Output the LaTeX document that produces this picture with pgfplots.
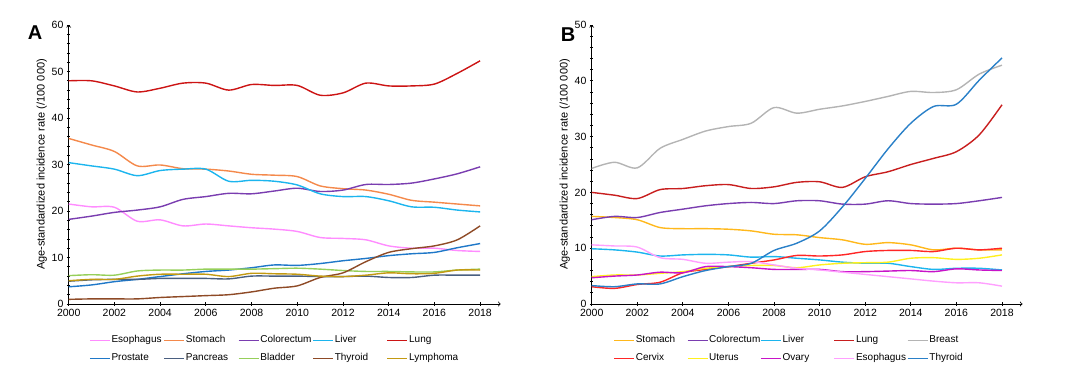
\documentclass[border=0pt]{standalone}
\usepackage{fontspec}
\setmainfont{Liberation Sans}
\usepackage{pgfplots}
\pgfplotsset{compat=1.18}
\definecolor{esoA}{HTML}{FF8CFF}
\definecolor{stoA}{HTML}{F4894B}
\definecolor{colA}{HTML}{7A3DB0}
\definecolor{livA}{HTML}{1CB5EE}
\definecolor{lungA}{HTML}{CC1414}
\definecolor{proA}{HTML}{1F78C8}
\definecolor{panA}{HTML}{4A5F80}
\definecolor{blaA}{HTML}{96CF5A}
\definecolor{thyA}{HTML}{8E4A26}
\definecolor{lymA}{HTML}{C39A12}
\definecolor{stoB}{HTML}{FFB81C}
\definecolor{lungB}{HTML}{C81E1E}
\definecolor{breB}{HTML}{B4B4B4}
\definecolor{cerB}{HTML}{FF2626}
\definecolor{uteB}{HTML}{FFF01E}
\definecolor{ovaB}{HTML}{C814C8}
\definecolor{esoB}{HTML}{FFA0FF}
\definecolor{thyB}{HTML}{2A80C8}
\pgfplotsset{
  mystyle/.style={
    scale only axis, height=279pt,
    axis lines=left,
    axis line style={->, line width=0.8pt},
    xmin=2000, xmax=2018.9, ymin=0,
    xtick={2000,2002,...,2018}, minor x tick num=1,
    minor y tick num=4,
    tick style={black, line width=0.8pt},
    major tick length=3.5pt, minor tick length=2.5pt,
    /pgf/number format/assume math mode=true,
    /pgf/number format/1000 sep={},
    tick label style={font=\fontsize{10.5}{12}\selectfont},
    ylabel={Age-standardized incidence rate (/100 000)},
    ylabel style={font=\fontsize{11}{13}\selectfont, yshift=-2pt},
    every axis plot/.append style={line width=1.4pt, smooth, tension=0.5, no markers},
    legend columns=5,
    legend cell align=left,
    legend image code/.code={\draw[#1] (0pt,0pt) -- (20pt,0pt);},
    legend style={draw=none, fill=none, anchor=north west,
      font=\fontsize{10}{12}\selectfont,
      nodes={inner sep=0pt, text height=7.5pt, text depth=2.5pt},
      row sep=8pt,
      /tikz/every even column/.style={column sep=0pt}},
  }
}
\begin{document}
\begin{tikzpicture}
\path[use as bounding box] (0,0) rectangle (1080pt,373pt);
\node[inner sep=0pt, font=\fontsize{20}{24}\selectfont\bfseries] at (35pt,340pt) {A};
\node[inner sep=0pt, font=\fontsize{20}{24}\selectfont\bfseries] at (568pt,338pt) {B};
\begin{axis}[mystyle, at={(68.7pt,69pt)}, anchor=south west, width=432pt,
  ymax=60, ytick={0,10,...,60},
  legend style={at={(axis description cs:0.040,-0.104)}}]
\addplot[esoA] coordinates {(2000,21.5)(2001,20.9)(2002,20.8)(2003,17.8)(2004,18.1)(2005,16.8)(2006,17.2)(2007,16.8)(2008,16.4)(2009,16.1)(2010,15.6)(2011,14.3)(2012,14.1)(2013,13.8)(2014,12.5)(2015,12.0)(2016,12.0)(2017,11.5)(2018,11.3)};
\addlegendentry{\makebox[53pt][l]{\hspace{1pt}Esophagus}}
\addplot[stoA] coordinates {(2000,35.6)(2001,34.2)(2002,32.8)(2003,29.7)(2004,29.9)(2005,29.1)(2006,29.0)(2007,28.6)(2008,27.9)(2009,27.7)(2010,27.4)(2011,25.4)(2012,24.8)(2013,24.5)(2014,23.6)(2015,22.3)(2016,21.9)(2017,21.5)(2018,21.1)};
\addlegendentry{\makebox[53pt][l]{\hspace{1pt}Stomach}}
\addplot[colA] coordinates {(2000,18.2)(2001,18.9)(2002,19.7)(2003,20.2)(2004,20.9)(2005,22.5)(2006,23.1)(2007,23.8)(2008,23.7)(2009,24.3)(2010,24.9)(2011,24.2)(2012,24.5)(2013,25.7)(2014,25.7)(2015,26.0)(2016,26.9)(2017,28.0)(2018,29.5)};
\addlegendentry{\makebox[53pt][l]{\hspace{1pt}Colorectum}}
\addplot[livA] coordinates {(2000,30.4)(2001,29.7)(2002,29.0)(2003,27.6)(2004,28.7)(2005,29.0)(2006,29.0)(2007,26.4)(2008,26.6)(2009,26.4)(2010,25.6)(2011,23.7)(2012,23.1)(2013,23.1)(2014,22.2)(2015,20.9)(2016,20.8)(2017,20.2)(2018,19.8)};
\addlegendentry{\makebox[53pt][l]{\hspace{1pt}Liver}}
\addplot[lungA] coordinates {(2000,48.0)(2001,48.0)(2002,46.9)(2003,45.6)(2004,46.4)(2005,47.5)(2006,47.5)(2007,46.0)(2008,47.2)(2009,47.0)(2010,47.0)(2011,44.9)(2012,45.4)(2013,47.5)(2014,46.9)(2015,46.9)(2016,47.3)(2017,49.6)(2018,52.3)};
\addlegendentry{\makebox[53pt][l]{\hspace{1pt}Lung}}
\addplot[proA] coordinates {(2000,3.7)(2001,4.1)(2002,4.8)(2003,5.3)(2004,5.9)(2005,6.5)(2006,7.0)(2007,7.3)(2008,7.8)(2009,8.4)(2010,8.3)(2011,8.7)(2012,9.3)(2013,9.8)(2014,10.4)(2015,10.8)(2016,11.1)(2017,12.1)(2018,13.0)};
\addlegendentry{\makebox[53pt][l]{\hspace{1pt}Prostate}}
\addplot[panA] coordinates {(2000,4.9)(2001,5.2)(2002,5.3)(2003,5.3)(2004,5.5)(2005,5.5)(2006,5.5)(2007,5.4)(2008,6.0)(2009,6.0)(2010,6.0)(2011,5.9)(2012,5.9)(2013,6.0)(2014,5.7)(2015,5.7)(2016,6.2)(2017,6.2)(2018,6.2)};
\addlegendentry{\makebox[53pt][l]{\hspace{1pt}Pancreas}}
\addplot[blaA] coordinates {(2000,6.1)(2001,6.3)(2002,6.2)(2003,7.1)(2004,7.3)(2005,7.3)(2006,7.5)(2007,7.5)(2008,7.5)(2009,7.6)(2010,7.7)(2011,7.5)(2012,7.2)(2013,7.0)(2014,7.0)(2015,6.9)(2016,6.9)(2017,7.3)(2018,7.5)};
\addlegendentry{\makebox[53pt][l]{\hspace{1pt}Bladder}}
\addplot[thyA] coordinates {(2000,1.0)(2001,1.1)(2002,1.1)(2003,1.1)(2004,1.4)(2005,1.6)(2006,1.8)(2007,2.0)(2008,2.6)(2009,3.4)(2010,3.9)(2011,5.7)(2012,6.7)(2013,9.1)(2014,11.1)(2015,11.9)(2016,12.5)(2017,13.8)(2018,16.8)};
\addlegendentry{\makebox[53pt][l]{\hspace{1pt}Thyroid}}
\addplot[lymA] coordinates {(2000,5.0)(2001,5.3)(2002,5.3)(2003,6.0)(2004,6.4)(2005,6.4)(2006,6.4)(2007,5.9)(2008,6.6)(2009,6.5)(2010,6.4)(2011,6.0)(2012,5.9)(2013,6.2)(2014,6.7)(2015,6.5)(2016,6.6)(2017,7.3)(2018,7.3)};
\addlegendentry{\makebox[53pt][l]{\hspace{1pt}Lymphoma}}
\end{axis}
\begin{axis}[mystyle, at={(591.7pt,69pt)}, anchor=south west, width=430.8pt,
  ymax=50, ytick={0,10,...,50},
  legend style={at={(axis description cs:0.043,-0.104)}}]
\addplot[stoB] coordinates {(2000,15.7)(2001,15.5)(2002,15.1)(2003,13.7)(2004,13.5)(2005,13.5)(2006,13.4)(2007,13.1)(2008,12.5)(2009,12.4)(2010,11.9)(2011,11.5)(2012,10.7)(2013,11.0)(2014,10.6)(2015,9.7)(2016,10.0)(2017,9.7)(2018,9.7)};
\addlegendentry{\makebox[52pt][l]{\hspace{1pt}Stomach}}
\addplot[colA] coordinates {(2000,15.1)(2001,15.7)(2002,15.5)(2003,16.4)(2004,17.0)(2005,17.6)(2006,18.0)(2007,18.2)(2008,18.0)(2009,18.5)(2010,18.5)(2011,17.9)(2012,17.9)(2013,18.5)(2014,18.0)(2015,17.9)(2016,18.0)(2017,18.5)(2018,19.1)};
\addlegendentry{\makebox[52pt][l]{\hspace{1pt}Colorectum}}
\addplot[livA] coordinates {(2000,9.9)(2001,9.7)(2002,9.3)(2003,8.6)(2004,8.8)(2005,8.9)(2006,8.8)(2007,8.4)(2008,8.5)(2009,8.2)(2010,7.9)(2011,7.5)(2012,7.3)(2013,7.3)(2014,6.7)(2015,6.2)(2016,6.4)(2017,6.4)(2018,6.1)};
\addlegendentry{\makebox[52pt][l]{\hspace{1pt}Liver}}
\addplot[lungB] coordinates {(2000,20.0)(2001,19.5)(2002,18.9)(2003,20.5)(2004,20.7)(2005,21.2)(2006,21.4)(2007,20.7)(2008,21.0)(2009,21.8)(2010,21.9)(2011,20.9)(2012,22.8)(2013,23.7)(2014,25.0)(2015,26.1)(2016,27.3)(2017,30.3)(2018,35.7)};
\addlegendentry{\makebox[52pt][l]{\hspace{1pt}Lung}}
\addplot[breB] coordinates {(2000,24.3)(2001,25.4)(2002,24.4)(2003,27.9)(2004,29.5)(2005,31.0)(2006,31.8)(2007,32.4)(2008,35.2)(2009,34.2)(2010,34.9)(2011,35.5)(2012,36.3)(2013,37.2)(2014,38.1)(2015,37.9)(2016,38.4)(2017,41.2)(2018,42.8)};
\addlegendentry{\makebox[52pt][l]{\hspace{1pt}Breast}}
\addplot[cerB] coordinates {(2000,3.1)(2001,2.8)(2002,3.5)(2003,3.9)(2004,5.6)(2005,6.2)(2006,6.7)(2007,7.3)(2008,7.9)(2009,8.7)(2010,8.6)(2011,8.8)(2012,9.4)(2013,9.6)(2014,9.6)(2015,9.4)(2016,10.0)(2017,9.7)(2018,10.0)};
\addlegendentry{\makebox[52pt][l]{\hspace{1pt}Cervix}}
\addplot[uteB] coordinates {(2000,4.9)(2001,5.2)(2002,5.2)(2003,5.5)(2004,5.8)(2005,6.4)(2006,6.7)(2007,6.9)(2008,6.9)(2009,6.5)(2010,7.0)(2011,7.3)(2012,7.4)(2013,7.5)(2014,8.2)(2015,8.3)(2016,8.0)(2017,8.2)(2018,8.8)};
\addlegendentry{\makebox[52pt][l]{\hspace{1pt}Uterus}}
\addplot[ovaB] coordinates {(2000,4.7)(2001,5.0)(2002,5.2)(2003,5.7)(2004,5.6)(2005,6.7)(2006,6.7)(2007,6.5)(2008,6.2)(2009,6.2)(2010,6.2)(2011,5.8)(2012,5.8)(2013,5.9)(2014,6.0)(2015,5.8)(2016,6.3)(2017,6.1)(2018,6.0)};
\addlegendentry{\makebox[52pt][l]{\hspace{1pt}Ovary}}
\addplot[esoB] coordinates {(2000,10.6)(2001,10.4)(2002,10.2)(2003,8.3)(2004,8.0)(2005,7.3)(2006,7.5)(2007,7.6)(2008,7.0)(2009,6.4)(2010,6.1)(2011,5.7)(2012,5.3)(2013,4.9)(2014,4.5)(2015,4.1)(2016,3.8)(2017,3.8)(2018,3.2)};
\addlegendentry{\makebox[52pt][l]{\hspace{1pt}Esophagus}}
\addplot[thyB] coordinates {(2000,3.3)(2001,3.1)(2002,3.6)(2003,3.6)(2004,4.9)(2005,6.0)(2006,6.7)(2007,7.3)(2008,9.6)(2009,10.9)(2010,13.1)(2011,17.4)(2012,22.5)(2013,27.8)(2014,32.4)(2015,35.4)(2016,35.8)(2017,40.1)(2018,44.1)};
\addlegendentry{\makebox[52pt][l]{\hspace{1pt}Thyroid}}
\end{axis}
\end{tikzpicture}
\end{document}
